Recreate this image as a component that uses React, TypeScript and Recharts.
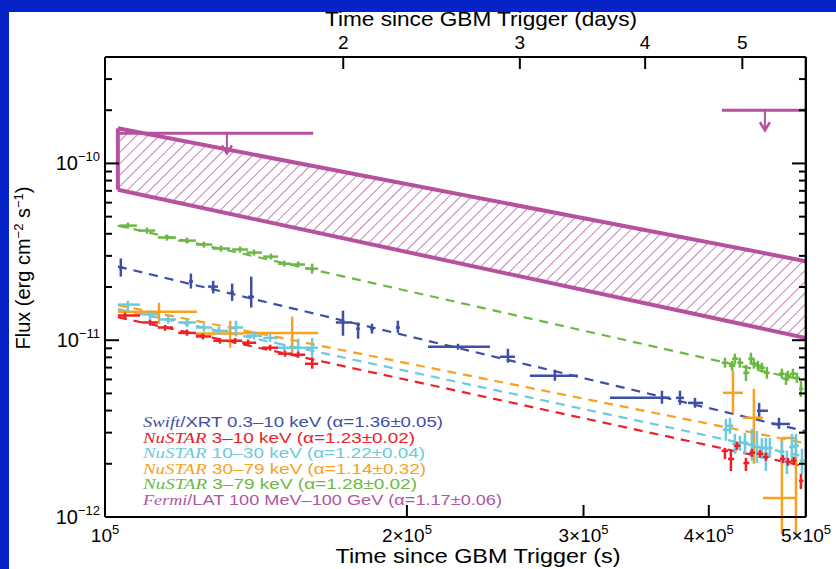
import React from 'react';
import { ComposedChart, XAxis, YAxis, Scatter, ErrorBar, Area, ReferenceLine } from 'recharts';

// ---------- axes / ticks ----------
const xDomain = [1e5, 5e5];
const yDomain = [1e-12, 4e-10];
const xTicks = [1e5, 2e5, 3e5, 4e5, 5e5];
const dayTicks = [2, 3, 4, 5];
const secondsPerDay = 86400;
const yMajorTicks = [1e-12, 1e-11, 1e-10];
const yMinorTicks = [
  2e-12, 3e-12, 4e-12, 5e-12, 6e-12, 7e-12, 8e-12, 9e-12,
  2e-11, 3e-11, 4e-11, 5e-11, 6e-11, 7e-11, 8e-11, 9e-11,
  2e-10, 3e-10,
];

// ---------- data: [t, tLow, tHigh, flux, fluxLow, fluxHigh] ----------
const swiftXrt = [
  [1.037e5, 1.033e5, 1.042e5, 2.58e-11, 2.29e-11, 2.9e-11],
  [1.218e5, 1.213e5, 1.224e5, 2.15e-11, 1.96e-11, 2.38e-11],
  [1.282e5, 1.267e5, 1.296e5, 2.01e-11, 1.84e-11, 2.17e-11],
  [1.339e5, 1.333e5, 1.345e5, 1.86e-11, 1.67e-11, 2.09e-11],
  [1.399e5, 1.389e5, 1.408e5, 1.76e-11, 1.53e-11, 2.29e-11],
  [1.727e5, 1.699e5, 1.763e5, 1.26e-11, 1.06e-11, 1.47e-11],
  [1.788e5, 1.78e5, 1.795e5, 1.16e-11, 1.02e-11, 1.26e-11],
  [1.846e5, 1.838e5, 1.854e5, 1.16e-11, 1.09e-11, 1.24e-11],
  [1.959e5, 1.95e5, 1.968e5, 1.18e-11, 1.1e-11, 1.29e-11],
  [2.249e5, 2.099e5, 2.42e5, 9.19e-12, 8.84e-12, 9.55e-12],
  [2.522e5, 2.476e5, 2.563e5, 8.06e-12, 7.46e-12, 8.95e-12],
  [2.809e5, 2.653e5, 2.962e5, 6.29e-12, 5.9e-12, 6.81e-12],
  [3.592e5, 3.188e5, 3.659e5, 4.72e-12, 4.37e-12, 5.18e-12],
  [3.744e5, 3.71e5, 3.778e5, 4.72e-12, 4.31e-12, 5.18e-12],
  [3.875e5, 3.813e5, 3.947e5, 4.42e-12, 4.15e-12, 4.72e-12],
  [4.49e5, 4.467e5, 4.581e5, 3.99e-12, 3.64e-12, 4.42e-12],
  [4.699e5, 4.624e5, 4.819e5, 3.36e-12, 3.15e-12, 3.64e-12],
];

const nustar3to10 = [
  [1.047e5, 1.03e5, 1.084e5, 1.38e-11, 1.32e-11, 1.43e-11],
  [1.109e5, 1.089e5, 1.129e5, 1.26e-11, 1.21e-11, 1.31e-11],
  [1.148e5, 1.129e5, 1.169e5, 1.18e-11, 1.13e-11, 1.22e-11],
  [1.207e5, 1.183e5, 1.232e5, 1.1e-11, 1.06e-11, 1.15e-11],
  [1.252e5, 1.232e5, 1.276e5, 1.05e-11, 1.01e-11, 1.09e-11],
  [1.302e5, 1.282e5, 1.327e5, 9.94e-12, 9.56e-12, 1.03e-11],
  [1.348e5, 1.33e5, 1.37e5, 9.94e-12, 9.56e-12, 1.03e-11],
  [1.389e5, 1.37e5, 1.415e5, 9.68e-12, 9.31e-12, 1.01e-11],
  [1.461e5, 1.434e5, 1.488e5, 9.07e-12, 8.72e-12, 9.43e-12],
  [1.512e5, 1.488e5, 1.537e5, 8.39e-12, 8.07e-12, 8.72e-12],
  [1.558e5, 1.537e5, 1.583e5, 8.28e-12, 7.96e-12, 8.61e-12],
  [1.609e5, 1.583e5, 1.631e5, 7.36e-12, 6.9e-12, 7.96e-12],
  [4.151e5, 4.12e5, 4.18e5, 2.37e-12, 2.13e-12, 2.46e-12],
  [4.208e5, 4.18e5, 4.24e5, 2.13e-12, 1.82e-12, 2.37e-12],
  [4.267e5, 4.24e5, 4.3e5, 2.53e-12, 2.4e-12, 2.66e-12],
  [4.356e5, 4.33e5, 4.39e5, 2.02e-12, 1.82e-12, 2.16e-12],
  [4.416e5, 4.39e5, 4.45e5, 2.31e-12, 2.19e-12, 2.43e-12],
  [4.498e5, 4.47e5, 4.53e5, 2.28e-12, 2.16e-12, 2.4e-12],
  [4.56e5, 4.53e5, 4.59e5, 2.19e-12, 2.08e-12, 2.31e-12],
  [4.742e5, 4.71e5, 4.77e5, 2.13e-12, 2.02e-12, 2.24e-12],
  [4.797e5, 4.77e5, 4.83e5, 2.05e-12, 1.95e-12, 2.16e-12],
  [4.863e5, 4.83e5, 4.89e5, 2.08e-12, 1.97e-12, 2.19e-12],
  [4.942e5, 4.92e5, 4.97e5, 1.6e-12, 1.44e-12, 1.75e-12],
];

const nustar10to30 = [
  [1.054e5, 1.03e5, 1.084e5, 1.59e-11, 1.47e-11, 1.67e-11],
  [1.109e5, 1.089e5, 1.129e5, 1.4e-11, 1.32e-11, 1.47e-11],
  [1.156e5, 1.135e5, 1.177e5, 1.31e-11, 1.24e-11, 1.38e-11],
  [1.207e5, 1.183e5, 1.232e5, 1.26e-11, 1.19e-11, 1.32e-11],
  [1.255e5, 1.232e5, 1.279e5, 1.18e-11, 1.12e-11, 1.24e-11],
  [1.299e5, 1.279e5, 1.327e5, 1.13e-11, 1.07e-11, 1.19e-11],
  [1.351e5, 1.33e5, 1.373e5, 1.18e-11, 1.05e-11, 1.29e-11],
  [1.408e5, 1.383e5, 1.434e5, 1.06e-11, 1.01e-11, 1.12e-11],
  [1.461e5, 1.438e5, 1.485e5, 1.03e-11, 9.8e-12, 1.09e-11],
  [1.509e5, 1.488e5, 1.533e5, 9.07e-12, 8.61e-12, 9.56e-12],
  [1.558e5, 1.533e5, 1.583e5, 9.07e-12, 7.96e-12, 1.02e-11],
  [1.609e5, 1.583e5, 1.631e5, 9.07e-12, 7.86e-12, 1.03e-11],
  [4.16e5, 4.13e5, 4.19e5, 3.11e-12, 2.7e-12, 3.59e-12],
  [4.199e5, 4.17e5, 4.23e5, 3.28e-12, 2.95e-12, 3.64e-12],
  [4.247e5, 4.22e5, 4.28e5, 2.59e-12, 2.28e-12, 2.95e-12],
  [4.296e5, 4.27e5, 4.33e5, 2.63e-12, 2.37e-12, 2.88e-12],
  [4.346e5, 4.32e5, 4.38e5, 2.63e-12, 2.28e-12, 2.99e-12],
  [4.416e5, 4.39e5, 4.45e5, 2.56e-12, 2.08e-12, 3.15e-12],
  [4.467e5, 4.44e5, 4.5e5, 2.49e-12, 2.02e-12, 3.07e-12],
  [4.519e5, 4.49e5, 4.55e5, 2.46e-12, 2.13e-12, 2.8e-12],
  [4.56e5, 4.53e5, 4.59e5, 2.28e-12, 1.82e-12, 2.8e-12],
  [4.602e5, 4.57e5, 4.63e5, 2.46e-12, 2.16e-12, 2.8e-12],
  [4.731e5, 4.7e5, 4.76e5, 2.34e-12, 2.0e-12, 2.7e-12],
  [4.786e5, 4.75e5, 4.82e5, 2.05e-12, 1.75e-12, 2.37e-12],
  [4.841e5, 4.81e5, 4.87e5, 2.49e-12, 2.08e-12, 2.95e-12],
  [4.886e5, 4.86e5, 4.92e5, 2.53e-12, 2.16e-12, 2.95e-12],
  [4.954e5, 4.93e5, 4.98e5, 2.08e-12, 1.75e-12, 2.43e-12],
];

const nustar30to79 = [
  [1.132e5, 1.03e5, 1.235e5, 1.45e-11, 1.24e-11, 1.63e-11],
  [1.333e5, 1.235e5, 1.373e5, 1.09e-11, 9.07e-12, 1.29e-11],
  [1.537e5, 1.373e5, 1.631e5, 1.1e-11, 8.28e-12, 1.36e-11],
  [4.228e5, 4.132e5, 4.326e5, 5.04e-12, 3.88e-12, 6.72e-12],
  [4.436e5, 4.326e5, 4.529e5, 3.64e-12, 2.0e-12, 5.31e-12],
  [4.731e5, 4.529e5, 4.897e5, 1.28e-12, 8.0e-13, 2.77e-12],
  [4.886e5, 4.731e5, 4.897e5, 2.8e-12, 8.0e-13, 2.8e-12],
];

const nustar3to79 = [
  [1.054e5, 1.035e5, 1.076e5, 4.45e-11, 4.28e-11, 4.63e-11],
  [1.101e5, 1.081e5, 1.122e5, 4.17e-11, 4.01e-11, 4.34e-11],
  [1.153e5, 1.129e5, 1.177e5, 3.81e-11, 3.66e-11, 3.96e-11],
  [1.207e5, 1.183e5, 1.232e5, 3.66e-11, 3.52e-11, 3.81e-11],
  [1.255e5, 1.232e5, 1.279e5, 3.48e-11, 3.34e-11, 3.61e-11],
  [1.305e5, 1.279e5, 1.333e5, 3.3e-11, 3.17e-11, 3.43e-11],
  [1.364e5, 1.339e5, 1.389e5, 3.26e-11, 3.13e-11, 3.39e-11],
  [1.408e5, 1.383e5, 1.434e5, 3.13e-11, 3.01e-11, 3.26e-11],
  [1.464e5, 1.438e5, 1.488e5, 2.97e-11, 2.86e-11, 3.09e-11],
  [1.509e5, 1.488e5, 1.533e5, 2.71e-11, 2.61e-11, 2.82e-11],
  [1.558e5, 1.533e5, 1.583e5, 2.68e-11, 2.58e-11, 2.79e-11],
  [1.609e5, 1.583e5, 1.631e5, 2.54e-11, 2.38e-11, 2.71e-11],
  [4.151e5, 4.12e5, 4.18e5, 7.46e-12, 6.99e-12, 7.96e-12],
  [4.219e5, 4.19e5, 4.25e5, 7.17e-12, 6.72e-12, 7.65e-12],
  [4.247e5, 4.22e5, 4.28e5, 7.86e-12, 7.36e-12, 8.39e-12],
  [4.296e5, 4.27e5, 4.33e5, 7.46e-12, 6.99e-12, 7.96e-12],
  [4.356e5, 4.33e5, 4.39e5, 6.54e-12, 5.89e-12, 7.26e-12],
  [4.406e5, 4.38e5, 4.44e5, 7.86e-12, 7.27e-12, 8.5e-12],
  [4.436e5, 4.41e5, 4.47e5, 7.36e-12, 6.9e-12, 7.86e-12],
  [4.477e5, 4.45e5, 4.51e5, 7.17e-12, 6.72e-12, 7.65e-12],
  [4.519e5, 4.49e5, 4.55e5, 6.99e-12, 6.55e-12, 7.46e-12],
  [4.571e5, 4.54e5, 4.6e5, 6.54e-12, 6.05e-12, 7.07e-12],
  [4.731e5, 4.7e5, 4.76e5, 6.46e-12, 6.05e-12, 6.9e-12],
  [4.775e5, 4.74e5, 4.81e5, 6.05e-12, 5.59e-12, 6.54e-12],
  [4.797e5, 4.77e5, 4.83e5, 6.29e-12, 5.9e-12, 6.72e-12],
  [4.852e5, 4.82e5, 4.89e5, 6.46e-12, 6.05e-12, 6.9e-12],
  [4.897e5, 4.87e5, 4.93e5, 6.13e-12, 5.74e-12, 6.54e-12],
  [4.942e5, 4.92e5, 4.97e5, 5.31e-12, 4.78e-12, 5.89e-12],
];

// power-law fit lines: flux at the two ends of fitT
const fitT = [1.03e5, 5.0e5];
const fitSwift = [2.61e-11, 3.05e-12];
const fitNu3to10 = [1.35e-11, 1.93e-12];
const fitNu10to30 = [1.5e-11, 2.19e-12];
const fitNu30to79 = [1.58e-11, 2.61e-12];
const fitNu3to79 = [4.45e-11, 5.89e-12];

// Fermi/LAT band and upper limits
const fermiBandT = [1.03e5, 5.0e5];
const fermiBandLow = [7.1e-11, 1.03e-11];
const fermiBandHigh = [1.58e-10, 2.8e-11];
// [tStart, tEnd, tArrow, fluxLimit, arrowTip]
const fermiUpperLimits = [
  [1.03e5, 1.613e5, 1.323e5, 1.48e-10, 1.14e-10],
  [4.122e5, 5.0e5, 4.55e5, 2.0e-10, 1.54e-10],
];

const legendItalic = ['Swift', 'NuSTAR', 'NuSTAR', 'NuSTAR', 'NuSTAR', 'Fermi'];
const legendRest = [
  '/XRT 0.3–10 keV (α=1.36±0.05)',
  ' 3–10 keV (α=1.23±0.02)',
  ' 10–30 keV (α=1.22±0.04)',
  ' 30–79 keV (α=1.14±0.32)',
  ' 3–79 keV (α=1.28±0.02)',
  '/LAT 100 MeV–100 GeV (α=1.17±0.06)',
];

// ---------- styles ----------
const C_SWIFT = '#3d4fa6';
const C_N310 = '#ea2127';
const C_N1030 = '#6dc9dd';
const C_N3079 = '#f7a11f';
const C_N379 = '#6cb844';
const C_FERMI = '#b5519f';
const C_HATCH = '#c270b4';
const legendColors = [C_SWIFT, C_N310, C_N1030, C_N3079, C_N379, '#b0559f'];
const legendWidths = [300, 272, 282, 283, 274, 359];
const FONT = '"Liberation Sans", Arial, Helvetica, sans-serif';
const SERIF = '"Liberation Serif", "Times New Roman", serif';

const toRows = (arr: number[][]) =>
  arr.map(([t, tLo, tHi, F, FLo, FHi]) => ({ t, F, ex: [t - tLo, tHi - t], ey: [F - FLo, FHi - F] }));

const bandRows = fermiBandT.map((t, i) => ({ t, band: [fermiBandLow[i], fermiBandHigh[i]] }));
const arrowRows = fermiUpperLimits.map((u) => ({ t: u[2], F: u[4] }));
const yTicksAll = [...yMajorTicks, ...yMinorTicks].sort((a, b) => a - b);

const NoShape = () => <g />;
const ArrowHead = (p: any) => (
  <path d={`M${p.cx - 5},${p.cy - 8} L${p.cx},${p.cy} L${p.cx + 5},${p.cy - 8}`} fill="none" stroke={C_FERMI} strokeWidth={2.5} />
);

const LeftTick = (p: any) => {
  const v = p.payload.value;
  const major = yMajorTicks.includes(v);
  const exp = Math.round(Math.log10(v));
  return (
    <g>
      <line x1={p.x} x2={p.x + (major ? 14 : 7)} y1={p.y} y2={p.y} stroke="#000" strokeWidth={2} />
      {major && (
        <text x={p.x - 5} y={p.y + 7} textAnchor="end" fontSize={20} fontFamily={FONT} fill="#000">
          10<tspan dy={-9} fontSize={13}>{'−' + Math.abs(exp)}</tspan>
        </text>
      )}
    </g>
  );
};
const RightTick = (p: any) => {
  const major = yMajorTicks.includes(p.payload.value);
  return <line x1={p.x} x2={p.x - (major ? 14 : 7)} y1={p.y} y2={p.y} stroke="#000" strokeWidth={2} />;
};
const BottomTick = (p: any) => {
  const m = Math.round(p.payload.value / 1e5);
  return (
    <g>
      <line x1={p.x} x2={p.x} y1={p.y} y2={p.y - 12} stroke="#000" strokeWidth={2} />
      <text x={p.x} y={p.y + 25} textAnchor="middle" fontSize={19} fontFamily={FONT} fill="#000">
        {m > 1 ? `${m}×10` : '10'}
        <tspan dy={-8} fontSize={13}>5</tspan>
      </text>
    </g>
  );
};
const TopTick = (p: any) => (
  <g>
    <line x1={p.x} x2={p.x} y1={p.y} y2={p.y + 12} stroke="#000" strokeWidth={2} />
    <text x={p.x} y={p.y - 8} textAnchor="middle" fontSize={19} fontFamily={FONT} fill="#000">
      {Math.round(p.payload.value / secondsPerDay)}
    </text>
  </g>
);

const fitLine = (vals: number[], color: string, key: string) => (
  <ReferenceLine
    key={key}
    segment={[{ x: fitT[0], y: vals[0] }, { x: fitT[1], y: vals[1] }]}
    stroke={color}
    strokeWidth={2.2}
    strokeDasharray="9 7"
    ifOverflow="visible"
  />
);

const series = (rows: any[], color: string, key: string) => (
  <Scatter key={key} data={rows} dataKey="F" shape={NoShape} isAnimationActive={false}>
    <ErrorBar dataKey="ex" direction="x" width={0} stroke={color} strokeWidth={2.5} />
    <ErrorBar dataKey="ey" direction="y" width={0} stroke={color} strokeWidth={2.5} />
  </Scatter>
);

export default function App() {
  const axisLine = { stroke: '#000', strokeWidth: 2 };
  return (
    <div style={{ position: 'absolute', left: 0, top: 0, width: 836, height: 569, background: '#0523c6', overflow: 'hidden' }}>
      <div style={{ position: 'absolute', left: 9, top: 12, width: 827, height: 557, background: '#fff' }} />
      <div style={{ position: 'absolute', left: 0, top: 0 }}>
        <ComposedChart width={836} height={569} data={bandRows} margin={{ top: 17, right: 0, bottom: 12, left: 45 }}>
          <defs>
            <pattern id="hatch" width="8" height="8" patternUnits="userSpaceOnUse" patternTransform="rotate(45)">
              <line x1="0" y1="0" x2="0" y2="8" stroke={C_HATCH} strokeWidth="1.8" />
            </pattern>
          </defs>
          <XAxis
            dataKey="t" type="number" scale="log" domain={xDomain} allowDataOverflow
            ticks={xTicks} interval={0} tick={BottomTick} tickLine={false} tickSize={0} tickMargin={0}
            height={40} axisLine={axisLine}
          />
          <XAxis
            xAxisId="top" dataKey="t" orientation="top" type="number" scale="log" domain={xDomain} allowDataOverflow
            ticks={dayTicks.map((d) => d * secondsPerDay)} interval={0} tick={TopTick} tickLine={false}
            tickSize={0} tickMargin={0} height={40} axisLine={axisLine}
          />
          <YAxis
            dataKey="F" type="number" scale="log" domain={yDomain} allowDataOverflow
            ticks={yTicksAll} interval={0} tick={LeftTick} tickLine={false} tickSize={0} tickMargin={0}
            width={60} axisLine={axisLine}
          />
          <YAxis
            yAxisId="right" dataKey="F" orientation="right" type="number" scale="log" domain={yDomain} allowDataOverflow
            ticks={yTicksAll} interval={0} tick={RightTick} tickLine={false} tickSize={0} tickMargin={0}
            width={30} axisLine={axisLine}
          />

          <Area
            dataKey="band" type="linear" fill="url(#hatch)" fillOpacity={1} stroke={C_FERMI} strokeWidth={4}
            dot={false} activeDot={false} isAnimationActive={false}
          />
          <ReferenceLine
            segment={[{ x: fermiBandT[0], y: fermiBandLow[0] }, { x: fermiBandT[0], y: fermiBandHigh[0] }]}
            stroke={C_FERMI} strokeWidth={4} ifOverflow="visible"
          />
          {fermiUpperLimits.map((u, i) => (
            <ReferenceLine key={'ulh' + i} segment={[{ x: u[0], y: u[3] }, { x: u[1], y: u[3] }]} stroke={C_FERMI} strokeWidth={3} ifOverflow="visible" />
          ))}
          {fermiUpperLimits.map((u, i) => (
            <ReferenceLine key={'ulv' + i} segment={[{ x: u[2], y: u[3] }, { x: u[2], y: u[4] }]} stroke={C_FERMI} strokeWidth={2} ifOverflow="visible" />
          ))}
          {/* arrow heads on the right y axis; an invisible copy on the top x axis so both secondary axes are in use */}
          <Scatter yAxisId="right" data={arrowRows} dataKey="F" shape={ArrowHead} isAnimationActive={false} />
          <Scatter xAxisId="top" data={arrowRows} dataKey="F" shape={NoShape} isAnimationActive={false} />

          {fitLine(fitNu3to79, C_N379, 'f379')}
          {fitLine(fitSwift, C_SWIFT, 'fsw')}
          {fitLine(fitNu30to79, C_N3079, 'f3079')}
          {fitLine(fitNu10to30, C_N1030, 'f1030')}
          {fitLine(fitNu3to10, C_N310, 'f310')}

          {series(toRows(nustar3to79), C_N379, 's379')}
          {series(toRows(swiftXrt), C_SWIFT, 'ssw')}
          {series(toRows(nustar30to79), C_N3079, 's3079')}
          {series(toRows(nustar10to30), C_N1030, 's1030')}
          {series(toRows(nustar3to10), C_N310, 's310')}

          {/* right edge of the plot frame */}
          <ReferenceLine x={4.996e5} stroke="#000" strokeWidth={2} ifOverflow="visible" />

          {legendRest.map((rest, i) => (
            <text
              key={'lg' + i}
              x={143}
              y={427 + i * 15.6}
              fontSize={15}
              fontFamily={FONT}
              fill={legendColors[i]}
              textLength={legendWidths[i]}
              lengthAdjust="spacingAndGlyphs"
              style={{ whiteSpace: 'pre' }}
            >
              <tspan fontFamily={SERIF} fontStyle="italic">{legendItalic[i]}</tspan>
              <tspan>{rest}</tspan>
            </text>
          ))}

          <text x={481} y={26} textAnchor="middle" fontSize={21} fontFamily={FONT} fill="#000" textLength={312} lengthAdjust="spacingAndGlyphs">
            Time since GBM Trigger (days)
          </text>
          <text x={478} y={563} textAnchor="middle" fontSize={21} fontFamily={FONT} fill="#000" textLength={285} lengthAdjust="spacingAndGlyphs">
            Time since GBM Trigger (s)
          </text>
          <text transform="translate(30,268) rotate(-90)" textAnchor="middle" fontSize={20} fontFamily={FONT} fill="#000">
            Flux (erg cm<tspan dy={-7} fontSize={13}>−2</tspan>
            <tspan dy={7}> s</tspan>
            <tspan dy={-7} fontSize={13}>−1</tspan>
            <tspan dy={7}>)</tspan>
          </text>
        </ComposedChart>
      </div>
    </div>
  );
}
